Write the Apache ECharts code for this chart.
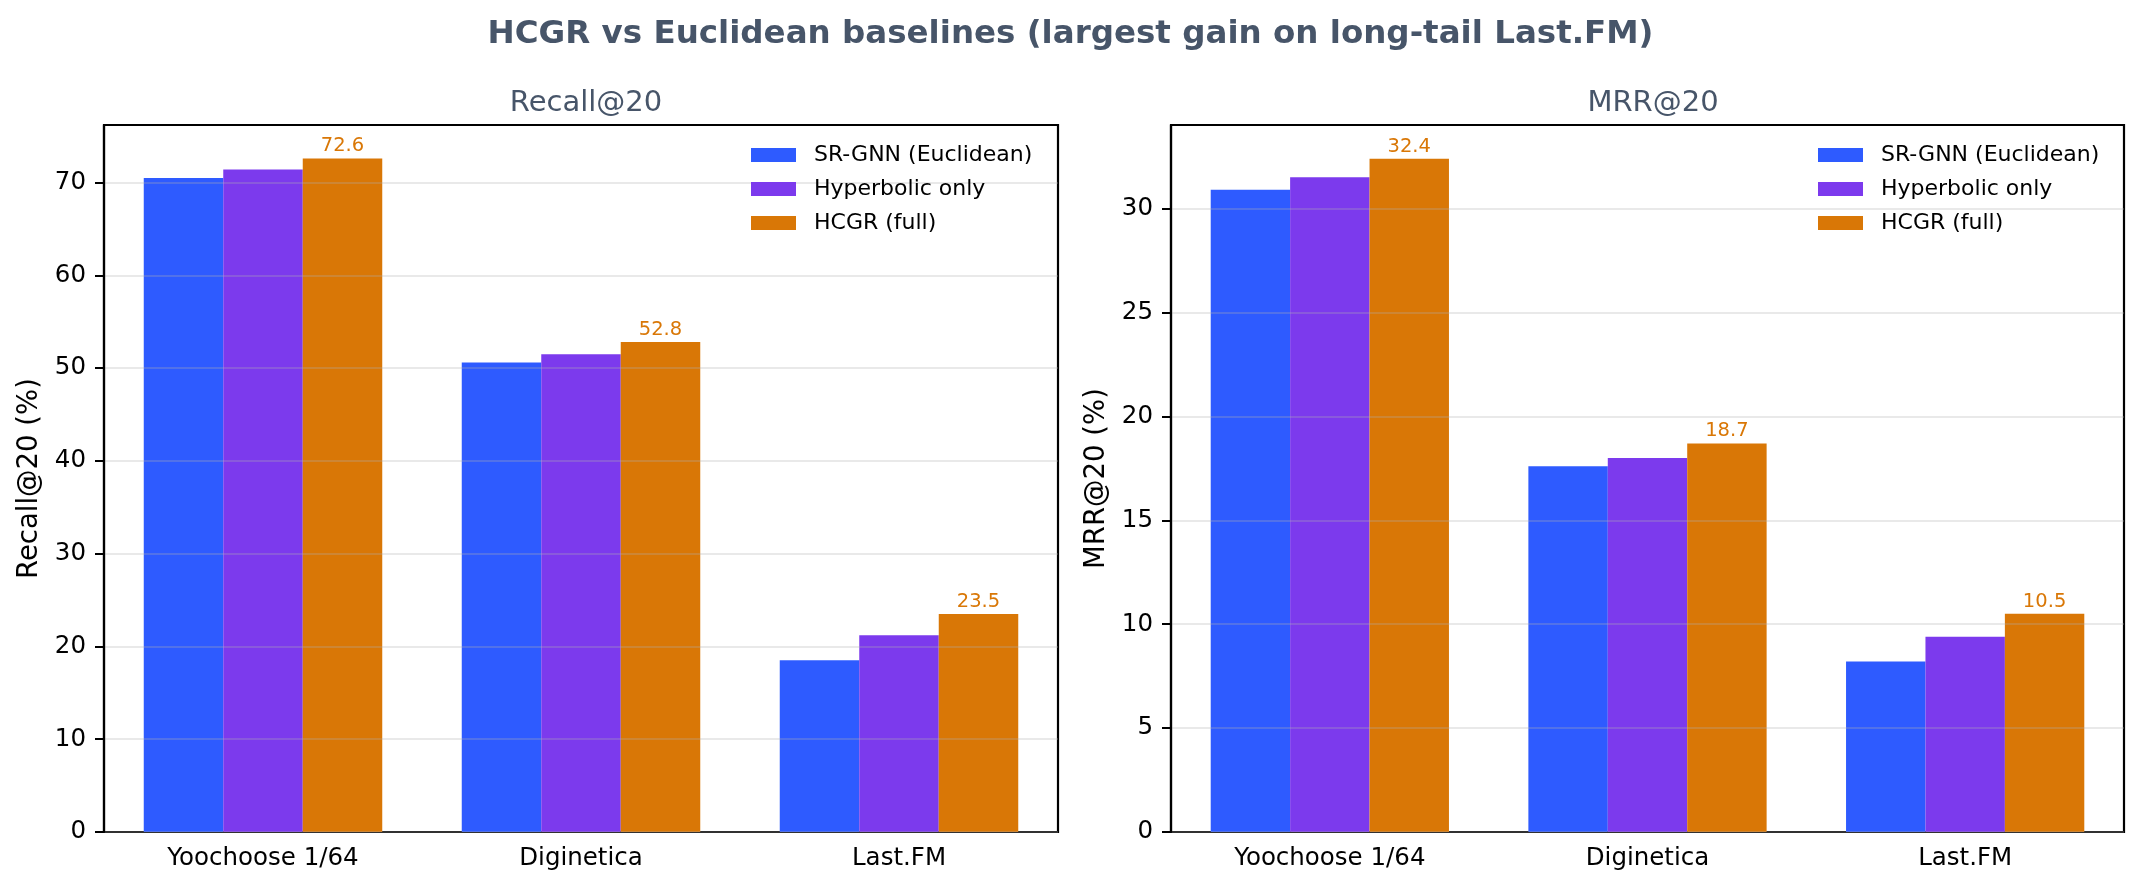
<!DOCTYPE html>
<html>
<head>
<meta charset="utf-8">
<title>HCGR vs Euclidean baselines</title>
<script src="https://cdn.jsdelivr.net/npm/echarts@6/dist/echarts.min.js"></script>
<style>
  html, body { margin: 0; padding: 0; background: #fff; }
  #main { width: 2141px; height: 891px; }
</style>
</head>
<body>
<div id="main"></div>
<script>
// data
var datasets = ["Yoochoose 1/64", "Diginetica", "Last.FM"];
var seriesNames = ["SR-GNN (Euclidean)", "Hyperbolic only", "HCGR (full)"];
var recallSrgnn = [70.5, 50.6, 18.5];
var recallHyper = [71.4, 51.5, 21.2];
var recallHcgr = [72.6, 52.8, 23.5];
var mrrSrgnn = [30.9, 17.6, 8.2];
var mrrHyper = [31.5, 18.0, 9.4];
var mrrHcgr = [32.4, 18.7, 10.5];

// tick labels
var recallTicks = [0, 10, 20, 30, 40, 50, 60, 70];
var mrrTicks = [0, 5, 10, 15, 20, 25, 30];

var colors = ["#2e5bff", "#7c3aed", "#d97706"];
var FONT = "DejaVu Sans";

document.addEventListener("DOMContentLoaded", function () {
  var chartDom = document.getElementById("main");
  var myChart = echarts.init(chartDom, null, { renderer: "canvas" });

  // one bar series per method for a given grid
  function makeSeries(idx, values) {
    var out = [];
    for (var i = 0; i < values.length; i++) {
      out.push({
        name: seriesNames[i],
        type: "bar",
        xAxisIndex: idx,
        yAxisIndex: idx,
        data: values[i],
        barWidth: "25%",
        barGap: "0%",
        itemStyle: { color: colors[i] },
        label: {
          show: i === 2, // only the full model gets a value on top
          position: "top",
          distance: 2,
          color: colors[2],
          fontFamily: FONT,
          fontSize: 19.5,
          formatter: function (p) { return p.value.toFixed(1); }
        }
      });
    }
    return out;
  }

  function xAxisCfg(idx) {
    return {
      type: "category",
      gridIndex: idx,
      data: datasets,
      axisLine: { lineStyle: { color: "#000", width: 2.2 } },
      axisTick: { alignWithLabel: true, length: 9, lineStyle: { color: "#000", width: 2 } },
      axisLabel: { color: "#000", fontFamily: FONT, fontSize: 24.5, margin: 14, interval: 0 },
      splitLine: { show: false }
    };
  }

  function yAxisCfg(idx, max, ticks, name) {
    return {
      type: "value",
      gridIndex: idx,
      min: 0,
      max: max,
      interval: ticks[1] - ticks[0],
      z: 3, // grid lines show faintly over the bars
      name: name,
      nameLocation: "middle",
      nameGap: 60,
      nameTextStyle: { color: "#000", fontFamily: FONT, fontSize: 27.5 },
      axisLine: { show: true, lineStyle: { color: "#000", width: 2.2 } },
      axisTick: { show: true, length: 9, customValues: ticks, lineStyle: { color: "#000", width: 2 } },
      axisLabel: {
        color: "#000", fontFamily: FONT, fontSize: 24.5, margin: 18,
        customValues: ticks
      },
      splitLine: { show: true, lineStyle: { color: "rgba(176,176,176,0.28)", width: 2 } }
    };
  }

  function legendCfg(left) {
    return {
      data: seriesNames,
      orient: "vertical",
      left: left,
      top: 144,
      padding: 0,
      itemWidth: 45,
      itemHeight: 14,
      itemGap: 12,
      icon: "rect",
      textStyle: { color: "#000", fontFamily: FONT, fontSize: 22, lineHeight: 22, padding: [0, 0, 0, 13] }
    };
  }

  var option = {
    animation: false,
    backgroundColor: "#fff",
    color: colors,
    title: [
      {
        text: "HCGR vs Euclidean baselines (largest gain on long-tail Last.FM)",
        left: "center",
        top: 13,
        textStyle: { color: "#475569", fontFamily: FONT, fontSize: 32.5, fontWeight: "bold" }
      },
      {
        text: "Recall@20",
        left: 581,
        textAlign: "center",
        top: 84,
        textStyle: { color: "#475569", fontFamily: FONT, fontSize: 29, fontWeight: "normal" }
      },
      {
        text: "MRR@20",
        left: 1648,
        textAlign: "center",
        top: 84,
        textStyle: { color: "#475569", fontFamily: FONT, fontSize: 29, fontWeight: "normal" }
      }
    ],
    legend: [legendCfg(751), legendCfg(1818)],
    grid: [
      { left: 104, top: 125, width: 954, height: 707, show: true, borderColor: "#000", borderWidth: 2.2, backgroundColor: "transparent" },
      { left: 1171, top: 125, width: 953, height: 707, show: true, borderColor: "#000", borderWidth: 2.2, backgroundColor: "transparent" }
    ],
    xAxis: [xAxisCfg(0), xAxisCfg(1)],
    yAxis: [
      yAxisCfg(0, 76.2, recallTicks, "Recall@20 (%)"),
      yAxisCfg(1, 34.02, mrrTicks, "MRR@20 (%)")
    ],
    series: []
      .concat(makeSeries(0, [recallSrgnn, recallHyper, recallHcgr]))
      .concat(makeSeries(1, [mrrSrgnn, mrrHyper, mrrHcgr]))
  };

  myChart.setOption(option);
});
</script>
</body>
</html>
